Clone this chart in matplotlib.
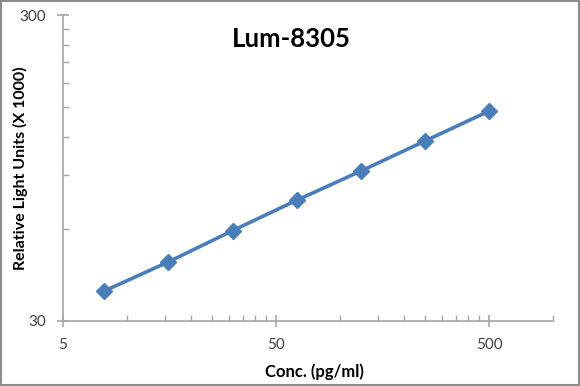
import matplotlib
matplotlib.use("Agg")
import matplotlib.pyplot as plt
from matplotlib.ticker import FixedLocator, NullFormatter
from matplotlib.patches import Rectangle

plt.rcParams['font.family'] = ['Lato', 'DejaVu Sans']

# standard curve
conc = [7.8125, 15.625, 31.25, 62.5, 125, 250, 500]
rlu = [37.6, 46.8, 59.2, 74.4, 92.7, 116.2, 145.6]

x_major = [5, 50, 500]
x_minor = [5 * k for k in range(2, 10)] + [50 * k for k in range(2, 10)] + [1000]
y_major = [30, 300]
y_minor = [30 * k for k in range(2, 10)]

fig = plt.figure(figsize=(5.8, 3.86), dpi=100)
ax = fig.add_axes([0.1086, 0.1684, 0.845, 0.7927])

ax.plot(conc, rlu, color='#4a7ebb', lw=2.6, marker='D', markersize=8,
        markerfacecolor='#4a7ebb', markeredgecolor='#4a7ebb')

ax.set_xscale('log')
ax.set_yscale('log')
ax.set_xlim(5, 1000)
ax.set_ylim(30, 300)

ax.xaxis.set_major_locator(FixedLocator(x_major))
ax.xaxis.set_minor_locator(FixedLocator(x_minor))
ax.yaxis.set_major_locator(FixedLocator(y_major))
ax.yaxis.set_minor_locator(FixedLocator(y_minor))
ax.set_xticklabels([str(v) for v in x_major])
ax.set_yticklabels([str(v) for v in y_major])
ax.xaxis.set_minor_formatter(NullFormatter())
ax.yaxis.set_minor_formatter(NullFormatter())

for s in ['top', 'right']:
    ax.spines[s].set_visible(False)
for s in ['left', 'bottom']:
    ax.spines[s].set_color('#a6a6a6')
    ax.spines[s].set_linewidth(1.2)

ax.tick_params(which='major', direction='inout', length=9, width=1.2,
               color='#a6a6a6', labelsize=11, labelcolor='#404040', pad=8)
ax.tick_params(which='minor', direction='in', length=4, width=1,
               color='#a6a6a6')

ax.set_xlabel('Conc. (pg/ml)', fontsize=12, fontweight='bold')
ax.set_ylabel('Relative Light Units (X 1000)', fontsize=11.5, fontweight='bold')
ax.xaxis.set_label_coords(0.514, -0.138)
ax.yaxis.set_label_coords(-0.072, 0.5)
ax.text(0.465, 0.92, 'Lum-8305', transform=ax.transAxes, ha='center',
        va='center', fontsize=18.5, fontweight='bold')

fig.patches.append(Rectangle((0.002, 0.003), 0.996, 0.994, transform=fig.transFigure,
                             fill=False, edgecolor='#8c8c8c', lw=1.5))

fig.savefig('out.png', dpi=100)
